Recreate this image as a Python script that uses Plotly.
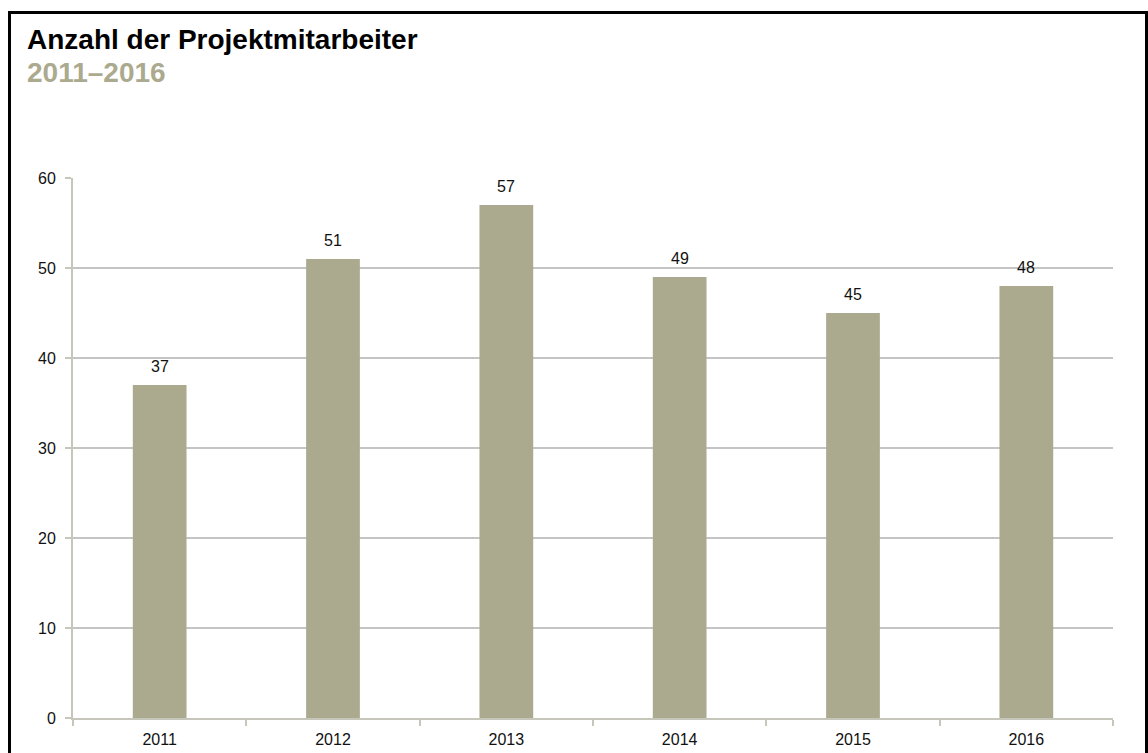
import plotly.graph_objects as go

# Anzahl der Projektmitarbeiter pro Jahr
years = ["2011", "2012", "2013", "2014", "2015", "2016"]
staff = [37, 51, 57, 49, 45, 48]
y_ticks = [0, 10, 20, 30, 40, 50, 60]

title_text = "Anzahl der Projektmitarbeiter"
subtitle_text = "2011–2016"

BAR = "#ABAA8F"
AXIS = "#C6C6BA"
GRID = "#C4C4C4"
FONT = "Liberation Sans, Arial, sans-serif"

W, H = 1148, 753
L, R, T, B = 73, 35, 178, 35
pw, ph = W - L - R, H - T - B


def px_to_paper_x(x):
    return (x - L) / pw


def px_to_paper_y(y):
    return (H - B - y) / ph


fig = go.Figure(
    go.Bar(
        x=years,
        y=staff,
        marker=dict(color=BAR, line=dict(width=0)),
        width=0.31,
        hoverinfo="x+y",
    )
)

# value labels above each bar (category index as x position)
for i, v in enumerate(staff):
    fig.add_annotation(
        x=i, y=v, text=str(v), showarrow=False,
        xref="x", yref="y", yanchor="bottom", yshift=8,
        font=dict(family=FONT, size=16, color="#111111"),
    )

# heading and subheading
fig.add_annotation(
    x=px_to_paper_x(25), y=px_to_paper_y(22), xref="paper", yref="paper",
    xanchor="left", yanchor="top", showarrow=False,
    text="<b>" + title_text + "</b>",
    font=dict(family=FONT, size=28, color="#000000"),
)
fig.add_annotation(
    x=px_to_paper_x(25), y=px_to_paper_y(55), xref="paper", yref="paper",
    xanchor="left", yanchor="top", showarrow=False,
    text="<b>" + subtitle_text + "</b>",
    font=dict(family=FONT, size=28, color=BAR),
)

# outer frame
fig.add_shape(
    type="rect", xref="paper", yref="paper",
    x0=px_to_paper_x(9.5), x1=px_to_paper_x(1146.5),
    y0=px_to_paper_y(770), y1=px_to_paper_y(12.5),
    line=dict(color="#000000", width=3), fillcolor="rgba(0,0,0,0)", layer="above",
)

fig.update_layout(
    width=W, height=H,
    margin=dict(l=L, r=R, t=T, b=B, pad=0, autoexpand=False),
    paper_bgcolor="white", plot_bgcolor="white",
    showlegend=False,
    font=dict(family=FONT, size=16, color="#111111"),
)

fig.update_xaxes(
    type="category",
    range=[-0.5, len(years) - 0.5],
    showgrid=False,
    showline=True, linecolor=AXIS, linewidth=2,
    ticks="outside", tickson="boundaries", ticklen=6, tickcolor=AXIS, tickwidth=2,
    tickfont=dict(family=FONT, size=16, color="#111111"),
    ticklabelstandoff=6,
    tickangle=0,
)
fig.update_yaxes(
    range=[0, 60],
    tickvals=y_ticks,
    showgrid=True, gridcolor=GRID, gridwidth=1.5,
    showline=True, linecolor=AXIS, linewidth=2,
    ticks="outside", ticklen=6, tickcolor=AXIS, tickwidth=2,
    tickfont=dict(family=FONT, size=16, color="#111111"),
    ticklabelstandoff=6,
    zeroline=False,
)

fig.write_html("out.html")
